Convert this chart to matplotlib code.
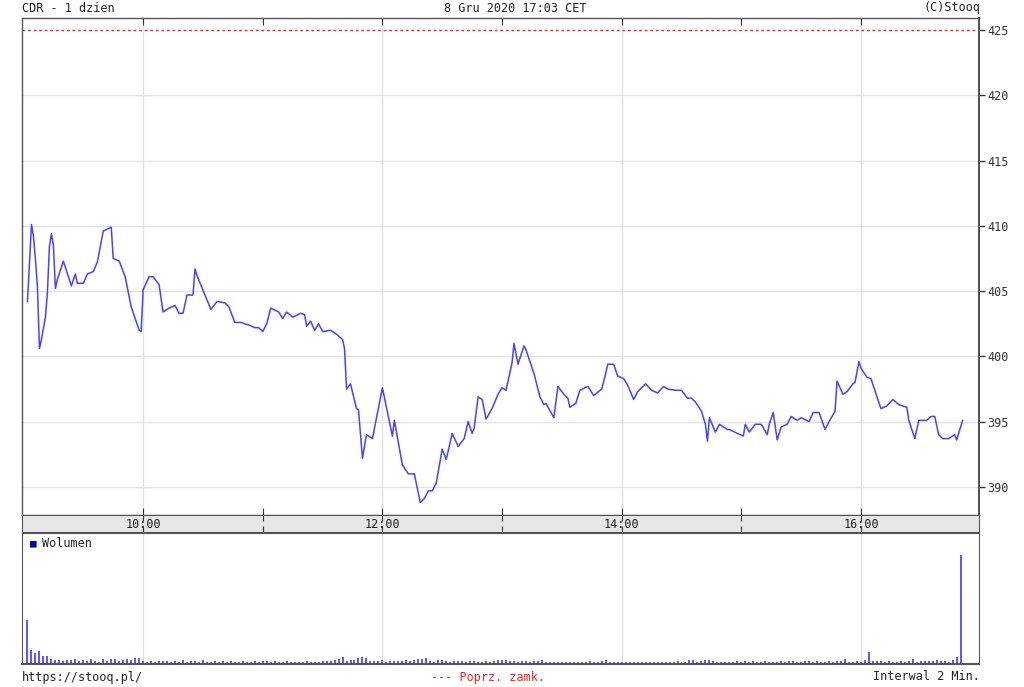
import matplotlib
matplotlib.use("Agg")
import matplotlib.pyplot as plt

# CDR intraday, 8 Dec 2020 (minutes after 09:00, price in PLN)
minutes = [2, 3, 4, 5, 6, 7, 8, 9, 11, 12, 13, 14, 15, 16, 17, 20, 24, 26, 27, 30,
           32, 35, 37, 40, 44, 45, 48, 51, 54, 58, 59, 60, 63, 65, 68, 70, 73, 76, 78, 80,
           82, 85, 86, 87, 91, 94, 97, 101, 103, 106, 109, 113, 116, 118, 120, 122, 124, 128, 130, 132,
           135, 139, 141, 142, 144, 146, 148, 150, 154, 157, 160, 161, 162, 164, 167, 168, 170, 172, 175, 180,
           185, 186, 190, 193, 196, 199, 201, 203, 205, 207, 210, 212, 215, 218, 221, 223, 225, 226, 228, 230,
           232, 235, 238, 240, 242, 245, 246, 248, 251, 252, 256, 259, 261, 262, 266, 268, 271, 273, 274, 277,
           279, 283, 286, 290, 292, 293, 296, 298, 301, 303, 306, 308, 312, 315, 318, 321, 323, 327, 330, 333,
           335, 337, 340, 342, 343, 344, 347, 349, 353, 354, 358, 361, 362, 364, 367, 370, 373, 374, 376, 378,
           380, 383, 385, 388, 390, 394, 396, 399, 402, 404, 407, 408, 411, 413, 416, 417, 419, 420, 423, 425,
           430, 433, 436, 439, 443, 444, 447, 449, 453, 455, 457, 459, 461, 464, 467, 468, 471]
prices = [404.2, 407.2, 410.1, 409.2, 407.4, 405.3, 400.6, 401.3, 403.0, 404.9, 408.4, 409.4, 408.5, 405.2, 405.9, 407.3, 405.4, 406.3, 405.6, 405.6,
          406.3, 406.5, 407.2, 409.6, 409.9, 407.5, 407.3, 406.1, 403.8, 402.0, 401.9, 405.1, 406.1, 406.1, 405.5, 403.4, 403.7, 403.9, 403.3, 403.3,
          404.7, 404.7, 406.7, 406.2, 404.7, 403.6, 404.2, 404.1, 403.8, 402.6, 402.6, 402.4, 402.2, 402.2, 401.9, 402.5, 403.7, 403.4, 402.9, 403.4,
          403.0, 403.3, 403.2, 402.3, 402.7, 402.0, 402.5, 401.9, 402.0, 401.7, 401.3, 400.6, 397.5, 397.9, 396.0, 395.9, 392.2, 394.0, 393.7, 397.6,
          393.9, 395.1, 391.7, 391.0, 391.0, 388.8, 389.1, 389.7, 389.7, 390.3, 392.9, 392.1, 394.1, 393.1, 393.7, 395.0, 394.1, 394.5, 396.9, 396.7,
          395.2, 396.0, 397.1, 397.6, 397.4, 399.5, 401.0, 399.4, 400.8, 400.5, 398.7, 396.9, 396.3, 396.4, 395.3, 397.7, 397.1, 396.8, 396.1, 396.4,
          397.4, 397.7, 397.0, 397.5, 398.7, 399.4, 399.4, 398.5, 398.3, 397.8, 396.7, 397.3, 397.9, 397.4, 397.2, 397.7, 397.5, 397.4, 397.4, 396.8,
          396.8, 396.5, 395.8, 394.8, 393.5, 395.3, 394.2, 394.8, 394.4, 394.4, 394.1, 393.9, 394.8, 394.2, 394.8, 394.8, 394.0, 394.8, 395.7, 393.6,
          394.6, 394.8, 395.4, 395.1, 395.3, 395.0, 395.7, 395.7, 394.4, 395.0, 395.8, 398.1, 397.1, 397.3, 397.9, 398.0, 399.6, 399.1, 398.4, 398.3,
          396.0, 396.2, 396.7, 396.3, 396.1, 395.1, 393.7, 395.1, 395.1, 395.4, 395.4, 394.0, 393.7, 393.7, 394.0, 393.6, 395.1]

prev_close = 425.0

# volume per 2-min bar, 15 bars = half an hour per row (relative units)
vol_minutes = list(range(2, 472, 2))
volume = [44, 14, 11, 13, 8, 8, 5, 4, 4, 3, 4, 4, 5, 3, 4,
          3, 5, 3, 2, 5, 3, 5, 5, 3, 4, 5, 4, 6, 6, 3,
          2, 3, 2, 3, 3, 3, 2, 3, 2, 4, 2, 3, 3, 2, 4,
          2, 2, 3, 2, 3, 2, 3, 2, 2, 3, 2, 2, 3, 2, 3,
          3, 2, 3, 2, 2, 3, 2, 2, 2, 2, 3, 2, 2, 2, 3,
          3, 3, 4, 5, 7, 3, 4, 4, 6, 7, 6, 3, 3, 3, 4,
          2, 3, 3, 3, 3, 4, 3, 4, 5, 5, 6, 3, 2, 4, 4,
          3, 2, 3, 3, 3, 2, 3, 3, 2, 2, 3, 2, 3, 4, 4,
          4, 3, 3, 2, 3, 3, 2, 3, 3, 4, 2, 2, 2, 2, 2,
          2, 2, 2, 2, 2, 2, 3, 2, 2, 3, 4, 2, 2, 2, 2,
          2, 2, 2, 2, 2, 2, 2, 2, 2, 2, 2, 2, 2, 3, 2,
          2, 4, 4, 2, 3, 4, 4, 3, 2, 2, 2, 2, 2, 3, 2,
          3, 2, 3, 2, 2, 3, 2, 2, 2, 3, 2, 3, 3, 2, 2,
          3, 3, 2, 3, 2, 2, 3, 2, 3, 3, 5, 2, 2, 3, 2,
          4, 12, 3, 3, 3, 2, 3, 2, 2, 3, 2, 3, 5, 2, 3,
          3, 3, 3, 4, 3, 3, 2, 4, 7, 109]

price_ticks = [390, 395, 400, 405, 410, 415, 420, 425]
hour_ticks = [60, 120, 180, 240, 300, 360, 420]
hour_labels = ["10:00", "", "12:00", "", "14:00", "", "16:00"]

plt.rcParams['font.family'] = ['DejaVu Sans Mono']
W, H = 1024, 687
fig = plt.figure(figsize=(W / 100, H / 100), dpi=100)

def box(x0, y0, x1, y1):
    return [x0 / W, 1 - y1 / H, (x1 - x0) / W, (y1 - y0) / H]

xlim = (-0.75, 479.2)
grid_c = "#e2e2e2"
line_c = "#4444ff"

# price panel
ax = fig.add_axes(box(22, 18, 979, 515))
ax.set_xlim(*xlim)
ax.set_ylim(387.85, 425.92)
for p in price_ticks[:-1]:
    ax.axhline(p, color=grid_c, lw=1, zorder=0)
for t in hour_ticks[::2]:
    ax.axvline(t, color=grid_c, lw=1, zorder=0)
ax.axhline(prev_close, color="#ff2020", lw=1, linestyle=(0, (2, 2)), zorder=1)
ax.plot(minutes, prices, color=line_c, lw=1.1, zorder=2)
ax.yaxis.tick_right()
ax.set_yticks(price_ticks)
ax.tick_params(axis="y", direction="out", length=4, width=1, labelsize=8.5, pad=2, colors="#333333")
ax.set_xticks(hour_ticks)
ax.set_xticklabels([])
ax.tick_params(axis="x", direction="in", length=5, top=True, bottom=True, colors="#333333")
for s in ax.spines.values():
    s.set_color("#555555")
    s.set_linewidth(1)
ax.spines["right"].set_linewidth(1.5)

# time strip
bx = fig.add_axes(box(22, 515, 979, 532))
bx.set_facecolor("#e6e6e6")
bx.set_xlim(*xlim)
bx.set_ylim(0, 1)
bx.set_yticks([])
bx.set_xticks(hour_ticks)
bx.set_xticklabels([])
bx.tick_params(axis="x", direction="in", length=4, top=True, bottom=True, colors="#333333")
for t, lab in zip(hour_ticks, hour_labels):
    bx.text(t, 0.45, lab, ha="center", va="center", fontsize=8.5, color="#222222")
for s in bx.spines.values():
    s.set_color("#555555")

# volume panel
vx = fig.add_axes(box(22, 533, 979, 664))
vx.set_xlim(*xlim)
vx.set_ylim(0, 131)
for t in hour_ticks[::2]:
    vx.axvline(t, color=grid_c, lw=1, zorder=0)
vx.bar(vol_minutes, volume, width=1.0, color="#5a5aff", linewidth=0, zorder=2)
vx.set_xticks([])
vx.set_yticks([])
for s in vx.spines.values():
    s.set_color("#555555")
vx.spines["bottom"].set_linewidth(1.5)
vx.text(0.008, 0.92, "\u25a0", transform=vx.transAxes, color="#0000aa", fontsize=8, va="center")
vx.text(0.021, 0.92, "Wolumen", transform=vx.transAxes, color="#222222", fontsize=8.5, va="center")

# header / footer
fig.text(22 / W, 1 - 8 / H, "CDR - 1 dzien", fontsize=8.5, va="center", ha="left", color="#222222")
fig.text(515 / W, 1 - 8 / H, "8 Gru 2020 17:03 CET", fontsize=8.5, va="center", ha="center", color="#222222")
fig.text(980 / W, 1 - 8 / H, "(C)Stooq", fontsize=8.5, va="center", ha="right", color="#222222")
fig.text(22 / W, 1 - 677 / H, "https://stooq.pl/", fontsize=8.5, va="center", ha="left", color="#222222")
fig.text(488 / W, 1 - 677 / H, "--- Poprz. zamk.", fontsize=8.5, va="center", ha="center", color="#ff2020")
fig.text(980 / W, 1 - 677 / H, "Interwal 2 Min.", fontsize=8.5, va="center", ha="right", color="#222222")

fig.savefig("out.png", dpi=100, facecolor="white")
